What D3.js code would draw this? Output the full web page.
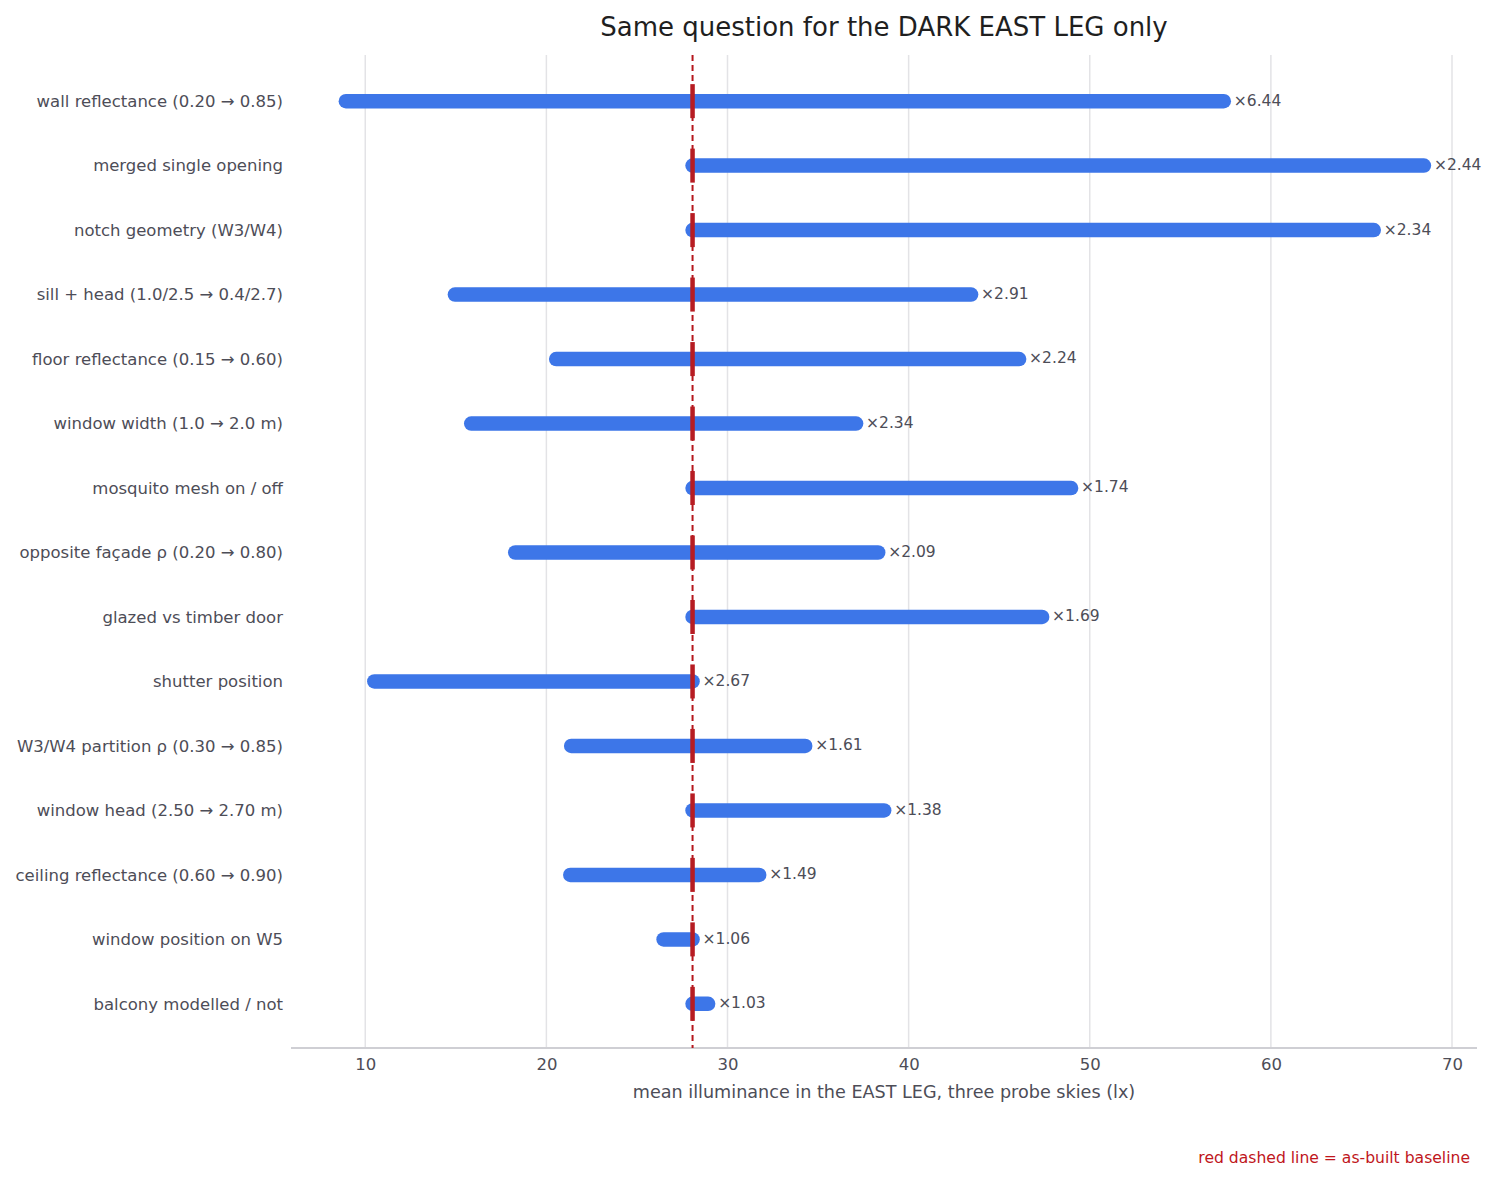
<!DOCTYPE html>
<html>
<meta charset="utf-8">
<head>
  <title>Dark east leg sensitivity</title>
</head>

<style>
body {
  margin: 0;
  background: #fff;
}
text {
  font-family: "DejaVu Sans", sans-serif;
}
.grid line {
  stroke: #e3e3e6;
  stroke-width: 1.5;
}
.xaxis path {
  stroke: #cfcfd4;
  stroke-width: 2;
}
.xaxis line {
  display: none;
}
.xaxis text {
  fill: #4d4d57;
  font-size: 16.5px;
  font-family: "DejaVu Sans", sans-serif;
}
.ylabel {
  fill: #4d4d57;
  font-size: 16.5px;
  text-anchor: end;
}
.ratio {
  fill: #4d4d57;
  font-size: 15.5px;
}
</style>

<body>
  <svg width="1495" height="1181"></svg>

  <script src="https://cdnjs.cloudflare.com/ajax/libs/d3/7.8.5/d3.min.js"></script>

  <script>
var width = 1495, height = 1181
var plotLeft = 291, plotRight = 1477, plotTop = 55, plotBottom = 1048

// parameters, top to bottom
var factors = [
  'wall reflectance (0.20 \u2192 0.85)',
  'merged single opening',
  'notch geometry (W3/W4)',
  'sill + head (1.0/2.5 \u2192 0.4/2.7)',
  'floor reflectance (0.15 \u2192 0.60)',
  'window width (1.0 \u2192 2.0 m)',
  'mosquito mesh on / off',
  'opposite fa\u00e7ade \u03c1 (0.20 \u2192 0.80)',
  'glazed vs timber door',
  'shutter position',
  'W3/W4 partition \u03c1 (0.30 \u2192 0.85)',
  'window head (2.50 \u2192 2.70 m)',
  'ceiling reflectance (0.60 \u2192 0.90)',
  'window position on W5',
  'balcony modelled / not'
]
// low and high mean illuminance (lx)
var lowValues = [8.93, 28.07, 28.07, 14.95, 20.54, 15.85, 28.07, 18.28, 28.07, 10.5, 21.37, 28.07, 21.32, 26.47, 28.07]
var highValues = [57.4, 68.45, 65.68, 43.45, 46.1, 37.1, 48.97, 38.32, 47.37, 28.07, 34.29, 38.65, 31.75, 28.07, 28.93]
var ratioLabels = ['\u00d76.44', '\u00d72.44', '\u00d72.34', '\u00d72.91', '\u00d72.24', '\u00d72.34', '\u00d71.74', '\u00d72.09', '\u00d71.69', '\u00d72.67', '\u00d71.61', '\u00d71.38', '\u00d71.49', '\u00d71.06', '\u00d71.03']
var baseline = 28.07
var xTicks = [10, 20, 30, 40, 50, 60, 70]

var rows = factors.map(function(f, i) {
  return {name: f, lo: lowValues[i], hi: highValues[i], label: ratioLabels[i]}
})

var x = d3.scaleLinear().domain([5.9, 71.38]).range([plotLeft, plotRight])
var y = d3.scalePoint().domain(factors).range([plotTop + 1, plotBottom + 1]).padding(0.7)

var svg = d3.select('svg')

// gridlines
svg.append('g').attr('class', 'grid')
  .selectAll('line')
  .data(xTicks)
  .enter().append('line')
  .attr('x1', function(d) { return x(d) })
  .attr('x2', function(d) { return x(d) })
  .attr('y1', plotTop)
  .attr('y2', plotBottom)

// x axis
var xAxis = svg.append('g').attr('class', 'xaxis')
  .attr('transform', 'translate(0,' + plotBottom + ')')
  .call(d3.axisBottom(x).tickValues(xTicks).tickSize(0).tickSizeOuter(0).tickPadding(10))
xAxis.select('.domain').attr('d', 'M' + plotLeft + ',0H' + plotRight)

// y labels
svg.append('g')
  .selectAll('text')
  .data(rows)
  .enter().append('text')
  .attr('class', 'ylabel')
  .attr('x', 283)
  .attr('y', function(d) { return y(d.name) })
  .attr('dy', '0.35em')
  .text(function(d) { return d.name })

// range bars
svg.append('g')
  .selectAll('line')
  .data(rows)
  .enter().append('line')
  .attr('x1', function(d) { return x(d.lo) })
  .attr('x2', function(d) { return x(d.hi) })
  .attr('y1', function(d) { return y(d.name) })
  .attr('y2', function(d) { return y(d.name) })
  .attr('stroke', '#3d76e8')
  .attr('stroke-width', 14.5)
  .attr('stroke-linecap', 'round')

// baseline dashed line
svg.append('line')
  .attr('x1', x(baseline))
  .attr('x2', x(baseline))
  .attr('y1', plotTop)
  .attr('y2', plotBottom)
  .attr('stroke', '#b5161c')
  .attr('stroke-width', 2)
  .attr('stroke-dasharray', '6,4')

// baseline ticks on each bar
svg.append('g')
  .selectAll('line')
  .data(rows)
  .enter().append('line')
  .attr('x1', x(baseline))
  .attr('x2', x(baseline))
  .attr('y1', function(d) { return y(d.name) - 17 })
  .attr('y2', function(d) { return y(d.name) + 17 })
  .attr('stroke', '#b71c22')
  .attr('stroke-width', 4.5)

// ratio labels
svg.append('g')
  .selectAll('text')
  .data(rows)
  .enter().append('text')
  .attr('class', 'ratio')
  .attr('x', function(d) { return x(Math.max(d.hi, baseline)) + 10 })
  .attr('y', function(d) { return y(d.name) - 1 })
  .attr('dy', '0.35em')
  .text(function(d) { return d.label })

// title
svg.append('text')
  .attr('x', 884)
  .attr('y', 36)
  .attr('text-anchor', 'middle')
  .attr('fill', '#1f1f1f')
  .style('font-size', '26px')
  .text('Same question for the DARK EAST LEG only')

// x axis title
svg.append('text')
  .attr('x', 884)
  .attr('y', 1098)
  .attr('text-anchor', 'middle')
  .attr('fill', '#4d4d57')
  .style('font-size', '17.6px')
  .text('mean illuminance in the EAST LEG, three probe skies (lx)')

// note
svg.append('text')
  .attr('x', 1470)
  .attr('y', 1163)
  .attr('text-anchor', 'end')
  .attr('fill', '#c0161c')
  .style('font-size', '15.6px')
  .text('red dashed line = as-built baseline')
  </script>
</body>
</html>
